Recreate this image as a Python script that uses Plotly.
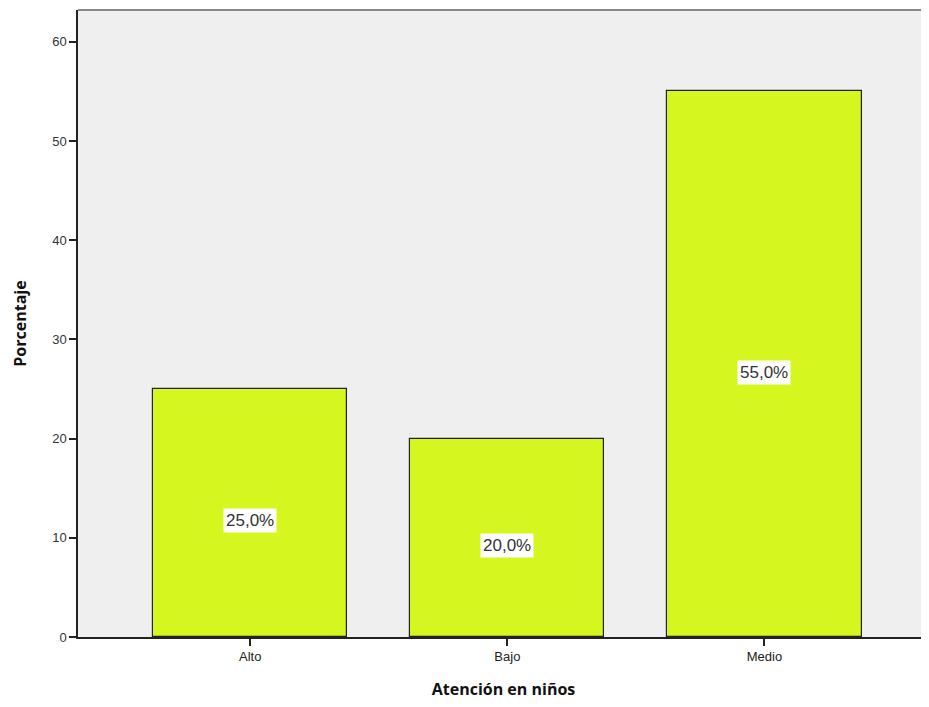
import plotly.graph_objects as go

categories = ["Alto", "Bajo", "Medio"]
percentages = [25.0, 20.0, 55.0]
labels = ["25,0%", "20,0%", "55,0%"]
y_ticks = [0, 10, 20, 30, 40, 50, 60]

fig = go.Figure()
fig.add_trace(go.Bar(
    x=[0, 1, 2], y=percentages, width=0.755,
    marker=dict(color="#d5f71f", line=dict(color="#222222", width=1.2)),
    hoverinfo="skip",
))

for i, (v, t) in enumerate(zip(percentages, labels)):
    fig.add_annotation(x=i, y=v / 2, text=t, showarrow=False, yshift=-8,
                       bgcolor="white", borderpad=2,
                       font=dict(family="Arial, Liberation Sans", size=17, color="#333333"))

fig.add_shape(type="line", xref="paper", yref="paper", x0=0, x1=1, y0=1, y1=1,
              line=dict(color="#888888", width=2))

fig.update_layout(
    width=921, height=699,
    margin=dict(l=70, r=0, t=2, b=70),
    paper_bgcolor="white", plot_bgcolor="#efefef",
    showlegend=False, bargap=0,
    xaxis=dict(range=[-0.67, 2.64], tickvals=[0, 1, 2], ticktext=categories,
               showgrid=False, zeroline=False, showline=True, linecolor="#222222", linewidth=1.5,
               ticks="outside", ticklen=7, tickcolor="#222222", tickwidth=1.5,
               tickfont=dict(family="Arial, Liberation Sans", size=13, color="#222222"),
               title=dict(text="<b>Atención en niños</b>", standoff=20,
                          font=dict(family="Open Sans, DejaVu Sans", size=16, color="#111111"))),
    yaxis=dict(range=[0, 63.2], tickvals=y_ticks,
               showgrid=False, zeroline=False, showline=True, linecolor="#222222", linewidth=1.5,
               ticks="outside", ticklen=7, tickcolor="#222222", tickwidth=1.5,
               tickfont=dict(family="Arial, Liberation Sans", size=13, color="#333333"),
               title=dict(text="<b>Porcentaje</b>", standoff=22,
                          font=dict(family="Open Sans, DejaVu Sans", size=16, color="#111111"))),
)

fig.write_html("out.html")
